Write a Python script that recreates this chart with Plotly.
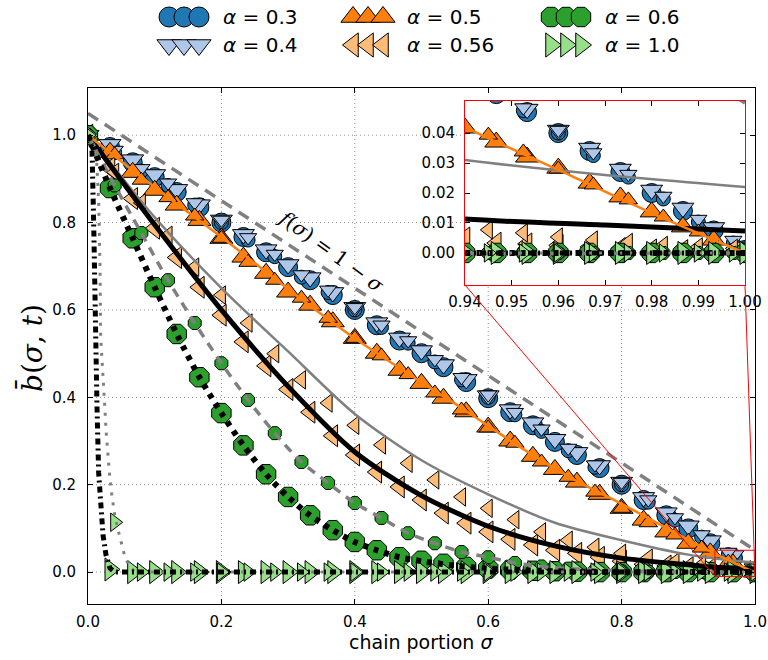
import plotly.graph_objects as go

# ---------------- data ----------------
# marker positions, two chain sets (A: big markers, B: small markers)
SIGMA_A = [0.0, 0.033, 0.067, 0.1, 0.133, 0.167, 0.2, 0.233, 0.267, 0.3, 0.333, 0.367, 0.4, 0.433,
           0.467, 0.5, 0.533, 0.567, 0.6, 0.633, 0.667, 0.7, 0.733, 0.767, 0.8, 0.833, 0.867, 0.9,
           0.933, 0.967, 1.0]
SIGMA_B = [0.0, 0.04, 0.08, 0.12, 0.16, 0.2, 0.24, 0.28, 0.32, 0.36, 0.4, 0.44, 0.48, 0.52, 0.56,
           0.6, 0.64, 0.68, 0.72, 0.76, 0.8, 0.84, 0.88, 0.92, 0.96, 1.0]

B03_A = [1.0, 0.973, 0.938, 0.904, 0.870, 0.835, 0.800, 0.767, 0.732, 0.698, 0.668, 0.634, 0.600,
         0.565, 0.530, 0.501, 0.469, 0.435, 0.398, 0.366, 0.336, 0.298, 0.268, 0.238, 0.200, 0.165,
         0.130, 0.100, 0.066, 0.032, 0.002]
B03_B = [1.0, 0.960, 0.918, 0.885, 0.840, 0.800, 0.760, 0.722, 0.675, 0.640, 0.600, 0.560, 0.524,
         0.481, 0.440, 0.400, 0.360, 0.322, 0.278, 0.240, 0.200, 0.160, 0.119, 0.080, 0.040, 0.002]
B04_A = [1.0, 0.979, 0.944, 0.910, 0.876, 0.841, 0.806, 0.773, 0.738, 0.704, 0.674, 0.640, 0.606,
         0.571, 0.536, 0.507, 0.475, 0.441, 0.404, 0.372, 0.342, 0.304, 0.274, 0.244, 0.206, 0.171,
         0.136, 0.106, 0.072, 0.038, 0.008]
B04_B = [1.0, 0.966, 0.924, 0.891, 0.846, 0.806, 0.766, 0.728, 0.681, 0.646, 0.606, 0.566, 0.530,
         0.487, 0.446, 0.406, 0.366, 0.328, 0.284, 0.246, 0.206, 0.166, 0.125, 0.086, 0.046, 0.008]
B05_A = [1.0, 0.961, 0.915, 0.874, 0.840, 0.805, 0.764, 0.721, 0.684, 0.641, 0.611, 0.573, 0.535,
         0.501, 0.462, 0.432, 0.398, 0.367, 0.332, 0.300, 0.265, 0.235, 0.206, 0.178, 0.146, 0.119,
         0.092, 0.066, 0.044, 0.019, 0.0]
B05_B = [1.0, 0.955, 0.897, 0.857, 0.815, 0.764, 0.709, 0.668, 0.627, 0.581, 0.535, 0.495, 0.452,
         0.410, 0.371, 0.330, 0.295, 0.252, 0.217, 0.183, 0.146, 0.113, 0.085, 0.055, 0.023, 0.0]
B056_A = [1.0, 0.925, 0.855, 0.787, 0.720, 0.652, 0.588, 0.527, 0.472, 0.418, 0.366, 0.312, 0.268,
          0.229, 0.195, 0.165, 0.135, 0.112, 0.092, 0.075, 0.062, 0.050, 0.043, 0.034, 0.025, 0.018,
          0.014, 0.010, 0.007, 0.005, 0.003]
B056_B = [1.0, 0.915, 0.845, 0.771, 0.698, 0.634, 0.570, 0.500, 0.440, 0.387, 0.336, 0.291, 0.249,
          0.211, 0.172, 0.146, 0.120, 0.092, 0.073, 0.057, 0.043, 0.032, 0.023, 0.016, 0.008, 0.003]
B06_A = [1.0, 0.879, 0.764, 0.652, 0.545, 0.446, 0.364, 0.290, 0.224, 0.172, 0.130, 0.096, 0.069,
         0.050, 0.034, 0.026, 0.019, 0.012, 0.008, 0.005, 0.003, 0.002, 0.001, 0.0, 0.0, 0.0, 0.0,
         0.0, 0.0, 0.0, 0.0]
B06_B = [1.0, 0.885, 0.776, 0.668, 0.570, 0.478, 0.394, 0.318, 0.252, 0.204, 0.158, 0.124, 0.089,
         0.066, 0.046, 0.034, 0.021, 0.013, 0.008, 0.004, 0.002, 0.001, 0.0, 0.0, 0.0, 0.0]
B10_A = [1.0, 0.006, 0.0, 0.0, 0.0, 0.0, 0.0, 0.0, 0.0, 0.0, 0.0, 0.0, 0.0, 0.0, 0.0, 0.0, 0.0, 0.0,
         0.0, 0.0, 0.0, 0.0, 0.0, 0.0, 0.0, 0.0, 0.0, 0.0, 0.0, 0.0, 0.0]
B10_B = [1.0, 0.114, 0.0, 0.0, 0.0, 0.0, 0.0, 0.0, 0.0, 0.0, 0.0, 0.0, 0.0, 0.0, 0.0, 0.0, 0.0, 0.0,
         0.0, 0.0, 0.0, 0.0, 0.0, 0.0, 0.0, 0.0]

# inset markers (denser sampling near the chain end)
SIGMA_C = [0.94, 0.9467, 0.9533, 0.96, 0.9667, 0.9733, 0.98, 0.9867, 0.9933, 1.0]
SIGMA_D = [0.9375, 0.945, 0.9525, 0.96, 0.9675, 0.975, 0.9825, 0.99, 0.9975]
I03_C = [0.060, 0.053, 0.047, 0.040, 0.034, 0.027, 0.020, 0.014, 0.0075, 0.001]
I03_D = [0.0625, 0.055, 0.0475, 0.040, 0.0325, 0.0253, 0.018, 0.0103, 0.0033]
I04_C = [0.061, 0.054, 0.048, 0.041, 0.035, 0.028, 0.021, 0.015, 0.0085, 0.002]
I04_D = [0.0635, 0.056, 0.0485, 0.041, 0.0335, 0.0263, 0.019, 0.0113, 0.0043]
I05_C = [0.0417, 0.037, 0.032, 0.0283, 0.0233, 0.0187, 0.0137, 0.0087, 0.0043, 0.0]
I05_D = [0.044, 0.0393, 0.0337, 0.028, 0.0227, 0.0177, 0.012, 0.007, 0.001]
I056_C = [0.005, 0.0033, 0.003, 0.0025, 0.002, 0.0015, 0.001, 0.0008, 0.0005, 0.0]
I056_D = [0.0085, 0.0077, 0.0067, 0.0053, 0.0043, 0.0035, 0.0025, 0.002, 0.0015]
I06_C = [0.0, 0.0, 0.0, 0.0, 0.0, 0.0, 0.0, 0.0, 0.0, 0.0]
I06_D = [0.0, 0.0, 0.0, 0.0, 0.0, 0.0, 0.0, 0.0, 0.0]
I10_C = [0.0, 0.0, 0.0, 0.0, 0.0, 0.0, 0.0, 0.0, 0.0, 0.0]
I10_D = [0.0, 0.0, 0.0, 0.0, 0.0, 0.0, 0.0, 0.0, 0.0]

# curves
F_SIG = [0.0, 1.0]
F_B = [1.05, 0.05]                     # drawn guide f(sigma)=1-sigma (shifted)
OR_SIG = [0.0, 0.05, 0.126, 0.2, 0.273, 0.35, 0.397, 0.472, 0.558, 0.648, 0.723, 0.798, 0.873,
          0.94, 0.96, 0.98, 1.0]
OR_B = [1.0, 0.94, 0.851, 0.767, 0.68, 0.59, 0.538, 0.462, 0.378, 0.286, 0.217, 0.158, 0.096,
        0.042, 0.0277, 0.0133, 0.0]
GR_SIG = [0.0, 0.05, 0.1, 0.2, 0.3, 0.4, 0.5, 0.6, 0.7, 0.8, 0.9, 0.94, 0.97, 1.0]
GR_B = [1.0, 0.905, 0.812, 0.650, 0.505, 0.362, 0.256, 0.178, 0.113, 0.073, 0.040, 0.031, 0.026,
        0.022]
BK_SIG = [0.0, 0.1, 0.2, 0.3, 0.4, 0.5, 0.6, 0.7, 0.8, 0.9, 0.94, 0.97, 1.0]
BK_B = [1.0, 0.795, 0.60, 0.425, 0.275, 0.175, 0.105, 0.06, 0.032, 0.017, 0.0113, 0.0093, 0.0073]
D6A_SIG = [0.0, 0.033, 0.067, 0.1, 0.133, 0.167, 0.2, 0.233, 0.267, 0.3, 0.333, 0.367, 0.4, 0.433,
           0.467, 0.5, 0.55, 0.6, 0.7, 0.8, 0.9, 1.0]
D6A_B = [1.0, 0.879, 0.764, 0.652, 0.545, 0.446, 0.364, 0.290, 0.224, 0.172, 0.130, 0.096, 0.069,
         0.050, 0.034, 0.025, 0.015, 0.008, 0.002, 0.0, 0.0, 0.0]
D6B_SIG = [0.0, 0.04, 0.08, 0.12, 0.16, 0.2, 0.24, 0.28, 0.32, 0.36, 0.4, 0.44, 0.48, 0.52, 0.56,
           0.6, 0.64, 0.7, 0.8, 0.9, 1.0]
D6B_B = [1.0, 0.885, 0.776, 0.668, 0.570, 0.478, 0.394, 0.318, 0.252, 0.204, 0.158, 0.124, 0.089,
         0.066, 0.046, 0.034, 0.021, 0.010, 0.003, 0.0, 0.0]
D10A_SIG = [0.0, 0.006, 0.0085, 0.0105, 0.0135, 0.016, 0.018, 0.0195, 0.0225, 0.027, 0.033, 0.04,
            1.0]
D10A_B = [1.0, 0.97, 0.80, 0.54, 0.378, 0.227, 0.18, 0.135, 0.085, 0.039, 0.009, 0.0, 0.0]
D10B_SIG = [0.0, 0.012, 0.016, 0.018, 0.019, 0.022, 0.024, 0.0255, 0.027, 0.029, 0.032, 0.0355,
            0.0395, 0.0445, 0.0505, 0.0555, 0.063, 0.07, 0.08, 1.0]
D10B_B = [1.0, 0.97, 0.85, 0.70, 0.538, 0.469, 0.42, 0.37, 0.325, 0.279, 0.229, 0.18, 0.135, 0.10,
          0.066, 0.034, 0.011, 0.002, 0.0, 0.0]

LEG_LABELS = ["0.3", "0.5", "0.6", "0.4", "0.56", "1.0"]
X_TICKS = [0.0, 0.2, 0.4, 0.6, 0.8, 1.0]
Y_TICKS = [0.0, 0.2, 0.4, 0.6, 0.8, 1.0]
IX_TICKS = [0.94, 0.95, 0.96, 0.97, 0.98, 0.99, 1.00]
IY_TICKS = [0.00, 0.01, 0.02, 0.03, 0.04]

# ---------------- styling / layout geometry ----------------
W, H = 768, 660
ML, MR, MT, MB = 88, 755, 88, 604          # main axes box (pixels)
IL, IR, IT, IB = 465, 745, 101, 285        # inset box (pixels)
XR = [0.0, 1.0]
YR = [-0.073, 1.108]
IXR = [0.94, 1.0]
IYR = [-0.0107, 0.0507]

C03, C04, C05, C056, C06, C10 = "#1f77b4", "#aec7e8", "#ff7f0e", "#ffbb78", "#2ca02c", "#98df8a"
GRAY = "#808080"
SANS = "DejaVu Sans"
SERIF = "DejaVu Serif"

SERIES = [  # (b set A, b set B, inset C, inset D, symbol, colour, big size, small size)
    (B03_A, B03_B, I03_C, I03_D, "circle", C03, 19, 14),
    (B04_A, B04_B, I04_C, I04_D, "triangle-down", C04, 19, 15),
    (B05_A, B05_B, I05_C, I05_D, "triangle-up", C05, 20, 16),
    (B056_A, B056_B, I056_C, I056_D, "triangle-left", C056, 19, 16),
    (B06_A, B06_B, I06_C, I06_D, "octagon", C06, 21, 14),
    (B10_A, B10_B, I10_C, I10_D, "triangle-right", C10, 20, 16),
]

fig = go.Figure()


def markers(x, y, sym, col, size, xa, ya):
    fig.add_trace(go.Scatter(x=x, y=y, mode="markers", xaxis=xa, yaxis=ya, showlegend=False,
                             hoverinfo="skip",
                             marker=dict(symbol=sym, color=col, size=size,
                                         line=dict(color="black", width=1))))


def curve(x, y, col, width, dash, shape, xa, ya):
    fig.add_trace(go.Scatter(x=x, y=y, mode="lines", xaxis=xa, yaxis=ya, showlegend=False,
                             hoverinfo="skip",
                             line=dict(color=col, width=width, dash=dash, shape=shape,
                                       smoothing=0.8)))


for ba, bb, ic, idd, sym, col, big, small in SERIES:
    markers(SIGMA_A, ba, sym, col, big, "x", "y")
    markers(SIGMA_B, bb, sym, col, small, "x", "y")
    markers(SIGMA_C, ic, sym, col, big, "x2", "y2")
    markers(SIGMA_D, idd, sym, col, small, "x2", "y2")

CURVES = [
    (F_SIG, F_B, GRAY, 3.5, "12px,8px", "linear"),
    (GR_SIG, GR_B, GRAY, 2.5, "solid", "spline"),
    (BK_SIG, BK_B, "black", 5, "solid", "spline"),
    (OR_SIG, OR_B, C05, 2.5, "solid", "spline"),
    (D6B_SIG, D6B_B, GRAY, 3.5, "9px,7px", "spline"),
    (D6A_SIG, D6A_B, "black", 6, "5px,6px", "spline"),
    (D10B_SIG, D10B_B, GRAY, 3, "3px,7px", "linear"),
    (D10A_SIG, D10A_B, "black", 5, "6px,4px,2px,4px", "linear"),
]
for xs, ys, col, w, d, shp in CURVES:
    curve(xs, ys, col, w, d, shp, "x", "y")
    curve(xs, ys, col, w, d, shp, "x2", "y2")

# ---------------- legend (drawn in its own pixel axes) ----------------
LEG_POS = [(184, 17), (368, 17), (566, 17), (184, 45), (368, 45), (566, 45)]
LEG_SYM = [("circle", C03, 20), ("triangle-up", C05, 21), ("octagon", C06, 21),
           ("triangle-down", C04, 21), ("triangle-left", C056, 21), ("triangle-right", C10, 21)]
annotations = []
for (cx, cy), (sym, col, size), lab in zip(LEG_POS, LEG_SYM, LEG_LABELS):
    markers([cx - 15, cx, cx + 15], [cy, cy, cy], sym, col, size, "x3", "y3")
    annotations.append(dict(xref="x3", yref="y3", x=cx + 37, y=cy, xanchor="left",
                            yanchor="middle", showarrow=False,
                            text=f"<i>α</i> = {lab}",
                            font=dict(family=SANS, size=20, color="black")))


def px_x(s):
    return ML + (s - XR[0]) / (XR[1] - XR[0]) * (MR - ML)


def px_y(v):
    return MB - (v - YR[0]) / (YR[1] - YR[0]) * (MB - MT)


def val_x(p):
    return XR[0] + (p - ML) / (MR - ML) * (XR[1] - XR[0])


def val_y(p):
    return YR[0] + (MB - p) / (MB - MT) * (YR[1] - YR[0])


shapes = []
GRID = dict(color="#909090", width=1, dash="1px,3px")
for gx in X_TICKS[1:-1]:
    top = YR[1] if gx < val_x(IL) else val_y(IB)
    shapes.append(dict(type="line", xref="x", yref="y", x0=gx, x1=gx, y0=YR[0], y1=top,
                       line=GRID, layer="below"))
for gy in Y_TICKS:
    right = XR[1] if gy < val_y(IB) else val_x(IL)
    shapes.append(dict(type="line", xref="x", yref="y", x0=XR[0], x1=right, y0=gy, y1=gy,
                       line=GRID, layer="below"))

# zoom rectangle and connector lines
shapes.append(dict(type="rect", xref="x", yref="y", x0=IXR[0], x1=IXR[1], y0=-0.01, y1=0.05,
                   line=dict(color="red", width=1), layer="above"))
for ipx, sx in [(IL, IXR[0]), (IR, IXR[1])]:
    shapes.append(dict(type="line", xref="paper", yref="paper",
                       x0=ipx / W, y0=1 - IB / H, x1=px_x(sx) / W, y1=1 - px_y(-0.01) / H,
                       line=dict(color="red", width=1), layer="above"))

annotations += [
    dict(xref="paper", yref="paper", x=421 / W, y=1 - 642 / H, showarrow=False,
         xanchor="center", yanchor="middle",
         text="chain portion <i>σ</i>", font=dict(family=SANS, size=19, color="black")),
    dict(xref="paper", yref="paper", x=32 / W, y=1 - 348 / H, showarrow=False, textangle=-90,
         xanchor="center", yanchor="middle",
         text="<i>b̄</i>(<i>σ</i>, <i>t</i>)", font=dict(family=SERIF, size=28, color="black")),
    dict(xref="paper", yref="paper", x=331 / W, y=1 - 251 / H, showarrow=False, textangle=36,
         xanchor="center", yanchor="middle",
         text="<i>f</i>(<i>σ</i>) = 1 − <i>σ</i>", font=dict(family=SERIF, size=20, color="black")),
]

AX = dict(showgrid=False, zeroline=False, showline=True, linecolor="black", linewidth=1,
          mirror="ticks", ticks="inside", ticklen=5, tickcolor="black", automargin=False,
          tickfont=dict(family=SANS, size=15, color="black"))

fig.update_layout(
    template="none",
    width=W, height=H, margin=dict(l=0, r=0, t=0, b=0, pad=0),
    paper_bgcolor="white", plot_bgcolor="white", showlegend=False,
    xaxis=dict(AX, domain=[ML / W, MR / W], range=XR, tickvals=X_TICKS, tickformat=".1f",
               anchor="y", ticklabelstandoff=4),
    yaxis=dict(AX, domain=[1 - MB / H, 1 - MT / H], range=YR, tickvals=Y_TICKS, tickformat=".1f",
               anchor="x", ticklabelstandoff=8),
    xaxis2=dict(AX, domain=[IL / W, IR / W], range=IXR, tickvals=IX_TICKS, tickformat=".2f",
                anchor="y2", linecolor="red", ticklabelstandoff=3),
    yaxis2=dict(AX, domain=[1 - IB / H, 1 - IT / H], range=IYR, tickvals=IY_TICKS,
                tickformat=".2f", anchor="x2", linecolor="red", ticklabelstandoff=6),
    xaxis3=dict(domain=[0, 1], range=[0, W], visible=False, anchor="y3", automargin=False),
    yaxis3=dict(domain=[1 - 72 / H, 1], range=[72, 0], visible=False, anchor="x3",
                automargin=False),
    shapes=shapes, annotations=annotations,
)

fig.write_html("out.html")
